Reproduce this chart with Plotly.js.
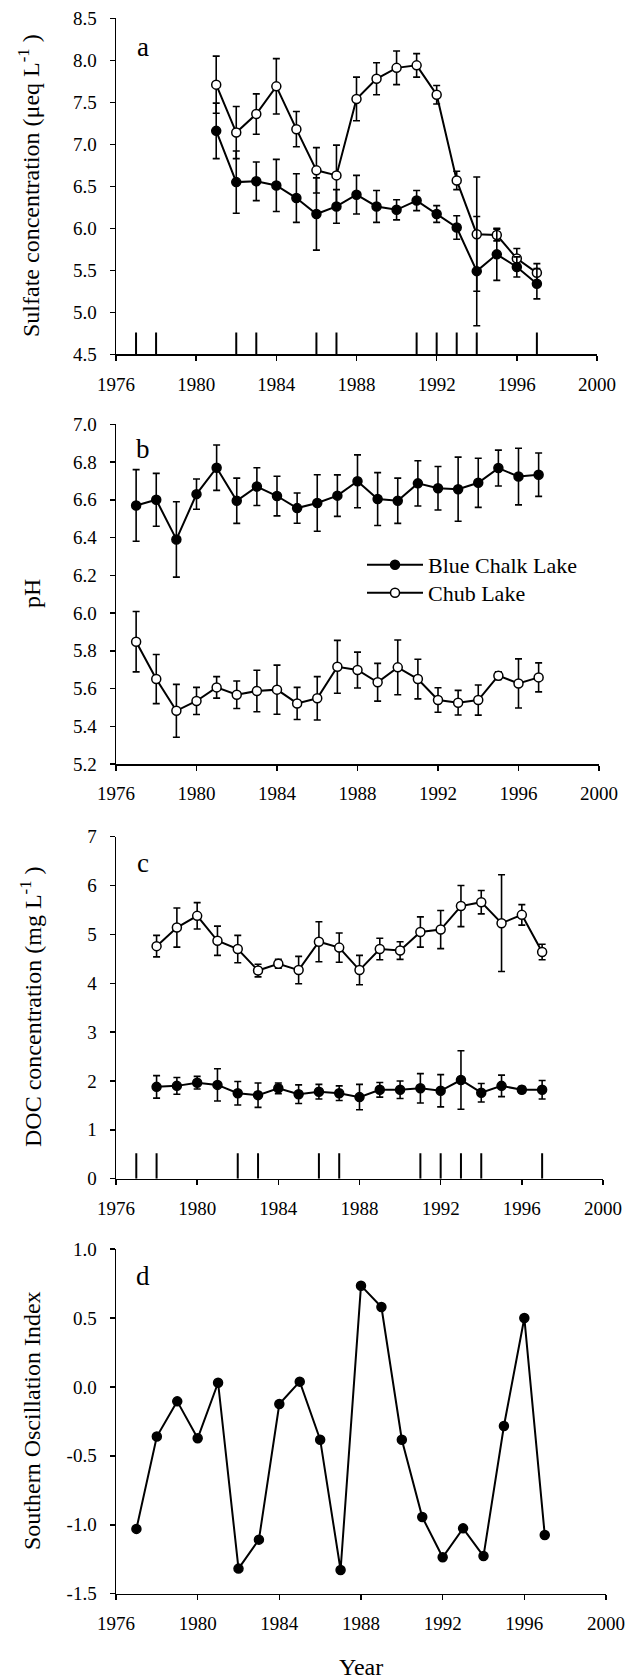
<!DOCTYPE html>
<html>
<head>
<meta charset="utf-8">
<script src="https://cdn.plot.ly/plotly-3.0.1.min.js"></script>
<style>html,body{margin:0;padding:0;background:#fff;}</style>
</head>
<body>
<div id="chart" style="width:628px;height:1679px;"></div>
<script>
// ---------- data ----------
var sulfYears = [1981,1982,1983,1984,1985,1986,1987,1988,1989,1990,1991,1992,1993,1994,1995,1996,1997];
var sulfBlue = [7.16,6.55,6.56,6.51,6.36,6.17,6.26,6.40,6.26,6.22,6.33,6.17,6.01,5.49,5.69,5.54,5.34];
var sulfBlueErr = [0.33,0.37,0.23,0.31,0.29,0.43,0.20,0.23,0.19,0.12,0.12,0.10,0.14,0.65,0.31,0.12,0.18];
var sulfChub = [7.71,7.14,7.36,7.69,7.18,6.69,6.63,7.54,7.78,7.91,7.94,7.59,6.57,5.93,5.92,5.64,5.47];
var sulfChubErr = [0.34,0.31,0.24,0.33,0.21,0.27,0.36,0.26,0.19,0.20,0.14,0.11,0.11,0.68,0.07,0.12,0.11];

var phYears = [1977,1978,1979,1980,1981,1982,1983,1984,1985,1986,1987,1988,1989,1990,1991,1992,1993,1994,1995,1996,1997];
var phBlue = [6.57,6.60,6.39,6.63,6.77,6.595,6.67,6.62,6.556,6.583,6.622,6.698,6.604,6.595,6.687,6.661,6.656,6.69,6.768,6.723,6.733];
var phBlueErr = [0.19,0.14,0.20,0.08,0.12,0.12,0.10,0.105,0.08,0.15,0.11,0.14,0.14,0.12,0.12,0.115,0.17,0.13,0.095,0.15,0.115];
var phChub = [5.848,5.65,5.482,5.534,5.606,5.567,5.587,5.594,5.521,5.548,5.715,5.698,5.633,5.712,5.65,5.539,5.525,5.539,5.668,5.627,5.659];
var phChubErr = [0.16,0.13,0.14,0.072,0.057,0.073,0.11,0.13,0.085,0.115,0.14,0.095,0.10,0.145,0.105,0.065,0.065,0.08,0.02,0.13,0.077];

var docYears = [1978,1979,1980,1981,1982,1983,1984,1985,1986,1987,1988,1989,1990,1991,1992,1993,1994,1995,1996,1997];
var docChub = [4.76,5.14,5.38,4.87,4.70,4.26,4.40,4.27,4.85,4.73,4.27,4.70,4.67,5.05,5.10,5.58,5.66,5.23,5.40,4.64];
var docChubErr = [0.22,0.40,0.27,0.30,0.28,0.13,0.09,0.28,0.41,0.30,0.30,0.22,0.18,0.31,0.39,0.42,0.24,0.99,0.21,0.16];
var docBlue = [1.88,1.90,1.965,1.92,1.75,1.71,1.85,1.73,1.78,1.75,1.67,1.82,1.82,1.85,1.80,2.02,1.76,1.90,1.82,1.82];
var docBlueErr = [0.23,0.17,0.13,0.33,0.24,0.25,0.11,0.19,0.15,0.15,0.26,0.15,0.18,0.30,0.33,0.60,0.19,0.22,0.065,0.19];

var soiYears = [1977,1978,1979,1980,1981,1982,1983,1984,1985,1986,1987,1988,1989,1990,1991,1992,1993,1994,1995,1996,1997];
var soi = [-1.03,-0.36,-0.105,-0.373,0.03,-1.318,-1.108,-0.124,0.038,-0.383,-1.328,0.734,0.579,-0.383,-0.944,-1.236,-1.026,-1.227,-0.284,0.50,-1.074];

// years marked by short vertical bars on panels a and c
var markYears = [1977,1978,1982,1983,1986,1987,1991,1992,1993,1994,1997];
var markSulfBase = 4.5, markSulfTop = 4.76;
var markDocBase = 0, markDocTop = 0.52;

var xTicks = [1976,1980,1984,1988,1992,1996,2000];
var sulfTicks = [4.5,5.0,5.5,6.0,6.5,7.0,7.5,8.0,8.5];
var phTicks = [5.2,5.4,5.6,5.8,6.0,6.2,6.4,6.6,6.8,7.0];
var docTicks = [0,1,2,3,4,5,6,7];
var soiTicks = [-1.5,-1.0,-0.5,0.0,0.5,1.0];
var soiTickText = ['-1.5','-1.0','-0.5','0.0','0.5','1.0'];

var nameBlue = 'Blue Chalk Lake';
var nameChub = 'Chub Lake';

// ---------- helpers ----------
var W = 628, H = 1679;
var FONT = '"Liberation Serif", "Times New Roman", serif';
function fx(px){ return px / W; }
function fy(px){ return 1 - px / H; }

function markLine(years, base, top){
  var xs = [], ys = [];
  years.forEach(function(yr){ xs.push(yr, yr, null); ys.push(base, top, null); });
  return {x: xs, y: ys};
}

function series(xs, ys, errs, filled, xa, ya, name, legendRef){
  var t = {
    type: 'scatter', mode: 'lines+markers', x: xs, y: ys,
    xaxis: xa, yaxis: ya, name: name, showlegend: !!legendRef,
    line: {color: 'black', width: 2},
    marker: {symbol: 'circle', size: 9, color: filled ? 'black' : 'white',
             line: {color: 'black', width: 1.5}},
    cliponaxis: false
  };
  if (legendRef) t.legend = legendRef;
  if (errs) {
    t.error_y = {type: 'data', array: errs, visible: true, color: 'black', thickness: 1.6, width: 3.5};
  }
  return t;
}

var traces = [];
// panel a
var mA = markLine(markYears, markSulfBase, markSulfTop);
traces.push({type:'scatter', mode:'lines', x:mA.x, y:mA.y, xaxis:'x', yaxis:'y', showlegend:false,
             line:{color:'black', width:2}, hoverinfo:'skip'});
traces.push(series(sulfYears, sulfChub, sulfChubErr, false, 'x', 'y', nameChub, null));
traces.push(series(sulfYears, sulfBlue, sulfBlueErr, true, 'x', 'y', nameBlue, null));
// panel b
traces.push(series(phYears, phBlue, phBlueErr, true, 'x2', 'y2', nameBlue, 'legend'));
traces.push(series(phYears, phChub, phChubErr, false, 'x2', 'y2', nameChub, 'legend2'));
// panel c
var mC = markLine(markYears, markDocBase, markDocTop);
traces.push({type:'scatter', mode:'lines', x:mC.x, y:mC.y, xaxis:'x3', yaxis:'y3', showlegend:false,
             line:{color:'black', width:2}, hoverinfo:'skip'});
traces.push(series(docYears, docChub, docChubErr, false, 'x3', 'y3', nameChub, null));
traces.push(series(docYears, docBlue, docBlueErr, true, 'x3', 'y3', nameBlue, null));
// panel d
traces.push(series(soiYears, soi, null, true, 'x4', 'y4', 'SOI', null));

function xAxis(anchor, left, right){
  return {
    anchor: anchor, domain: [fx(left), fx(right)], range: [1976, 2000],
    tickvals: xTicks, tickformat: 'd',
    showline: true, linecolor: 'black', linewidth: 1.5, mirror: false,
    ticks: 'outside', ticklen: 5, tickwidth: 1.5, tickcolor: 'black',
    showgrid: false, zeroline: false,
    tickfont: {family: FONT, size: 19, color: 'black'}, ticklabelstandoff: 7
  };
}
function yAxis(anchor, top, bottom, range, tickvals, ticktext, fmt){
  var a = {
    anchor: anchor, domain: [fy(bottom), fy(top)], range: range,
    tickvals: tickvals,
    showline: true, linecolor: 'black', linewidth: 1.5, mirror: false,
    ticks: 'outside', ticklen: 5, tickwidth: 1.5, tickcolor: 'black',
    showgrid: false, zeroline: false,
    tickfont: {family: FONT, size: 19, color: 'black'}, ticklabelstandoff: 9
  };
  if (ticktext) a.ticktext = ticktext;
  if (fmt) a.tickformat = fmt;
  return a;
}

var annFont = {family: FONT, size: 24, color: 'black'};
function yTitle(text, cx, cy){
  return {text: text, xref:'paper', yref:'paper', x: fx(cx), y: fy(cy), xanchor:'center', yanchor:'middle',
          textangle: -90, showarrow: false, font: annFont};
}
function letter(text, cx, cy){
  return {text: text, xref:'paper', yref:'paper', x: fx(cx), y: fy(cy), xanchor:'center', yanchor:'middle',
          showarrow: false, font: {family: FONT, size: 27, color: 'black'}};
}
function legendBox(topPx){
  return {x: fx(362), y: fy(topPx), xanchor: 'left', yanchor: 'top',
          bgcolor: 'rgba(0,0,0,0)', borderwidth: 0, itemwidth: 56,
          font: {family: FONT, size: 22, color: 'black'}};
}

var layout = {
  width: W, height: H,
  margin: {l:0, r:0, t:0, b:0, pad:0},
  paper_bgcolor: 'white', plot_bgcolor: 'white',
  font: {family: FONT, color: 'black'},
  showlegend: true,
  legend: legendBox(544),
  legend2: legendBox(572),
  xaxis:  xAxis('y', 116, 597),
  yaxis:  yAxis('x', 18.3, 354.3, [4.5, 8.5], sulfTicks, null, '.1f'),
  xaxis2: xAxis('y2', 116, 599),
  yaxis2: yAxis('x2', 424.3, 764, [5.2, 7.0], phTicks, null, '.1f'),
  xaxis3: xAxis('y3', 116, 603),
  yaxis3: yAxis('x3', 836.7, 1178.7, [0, 7], docTicks, null, 'd'),
  xaxis4: xAxis('y4', 116, 606),
  yaxis4: yAxis('x4', 1249, 1593.7, [-1.5, 1.0], soiTicks, soiTickText, null),
  annotations: [
    yTitle('Sulfate concentration (μeq L<sup>-1</sup> )', 29, 186),
    yTitle('pH', 32, 594),
    yTitle('DOC concentration (mg L<sup>-1</sup> )', 31, 1007),
    yTitle('Southern Oscillation Index', 32, 1421),
    letter('a', 143, 47),
    letter('b', 143, 449),
    letter('c', 143, 863),
    letter('d', 143, 1276),
    {text:'Year', xref:'paper', yref:'paper', x: fx(361), y: fy(1667), xanchor:'center', yanchor:'middle',
     showarrow:false, font: annFont}
  ]
};

Plotly.newPlot('chart', traces, layout, {staticPlot: true, displayModeBar: false});
</script>
</body>
</html>
